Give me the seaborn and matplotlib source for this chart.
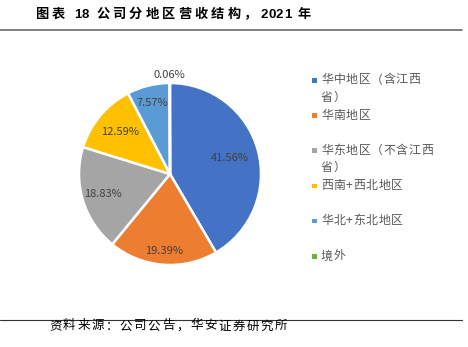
import matplotlib
matplotlib.use("Agg")
import matplotlib.pyplot as plt
import seaborn as sns
import numpy as np
from matplotlib.patches import Rectangle
from matplotlib.lines import Line2D

regions = ["华中地区（含江西\n省）", "华南地区", "华东地区（不含江西\n省）",
           "西南+西北地区", "华北+东北地区", "境外"]
shares = [41.56, 19.39, 18.83, 12.59, 7.57, 0.06]
colors = ["#4472C4", "#ED7D31", "#A5A5A5", "#FFC000", "#5B9BD5", "#70AD47"]
title = "图表 18 公司分地区营收结构，2021 年"
source = "资料来源：公司公告，华安证券研究所"

sns.set_theme(style="white")
plt.rcParams['font.family'] = ['Liberation Sans', 'Noto Sans CJK SC', 'DejaVu Sans']

fig = plt.figure(figsize=(4.68, 3.47), dpi=100)
W, H = 468, 347
renderer = fig.canvas.get_renderer()


def tracked(x_px, y_px, s, spacing, space_w, **kw):
    """Draw a string char by char with extra spacing (pixels) after wide chars."""
    x = x_px
    for i, ch in enumerate(s):
        if ch == " ":
            x += space_w
            continue
        t = fig.text(x / W, 1 - y_px / H, ch, ha="left", va="center", **kw)
        bb = t.get_window_extent(renderer)
        nxt = s[i + 1] if i + 1 < len(s) else " "
        x += bb.width
        if ord(ch) > 127 or ord(nxt) > 127:
            x += spacing
        else:
            x += 0.3


# pie axes: center (170,174), radius 91 px
cx, cy, r = 170, 174, 91
ax = fig.add_axes([(cx - r) / W, 1 - (cy + r) / H, 2 * r / W, 2 * r / H])
wedges, texts = ax.pie(shares, colors=colors, startangle=90, counterclock=False,
                       wedgeprops=dict(edgecolor="white", linewidth=1.8))
ax.set_xlim(-1, 1)
ax.set_ylim(-1, 1)
ax.set_aspect("equal")
ax.axis("off")

dists = [0.68, 0.85, 0.77, 0.72, 0.80, 1.09]
for w, v, d in zip(wedges, shares, dists):
    ang = np.deg2rad((w.theta1 + w.theta2) / 2)
    ax.text(d * np.cos(ang), d * np.sin(ang), f"{v:.2f}%", ha="center", va="center",
            fontsize=8, color="#404040", family=['Noto Sans CJK SC'])

# title and rules
tracked(35, 15, title, 3.2, 6.5, fontsize=9.5, fontweight="bold", color="black",
        family=['Liberation Sans', 'Noto Sans CJK SC'])
fig.add_artist(Line2D([0, 462 / W], [1 - 29.5 / H] * 2, color="#808080", lw=1.4))
fig.add_artist(Line2D([0, 462 / W], [1 - 320 / H] * 2, color="#333333", lw=0.8))
tracked(49, 326, source, 1.6, 4, fontsize=9, color="black",
        family=['Noto Sans CJK SC'])

# legend
y0, dy = 80, 35.2
for i, (lab, c) in enumerate(zip(regions, colors)):
    y = y0 + i * dy
    fig.add_artist(Rectangle((312 / W, 1 - (y + 2.5) / H), 4.5 / W, 4.5 / H,
                             facecolor=c, edgecolor="none", transform=fig.transFigure))
    for j, line in enumerate(lab.split("\n")):
        tracked(321, y + j * 17, line, 0.6, 4, fontsize=8.6, color="#595959",
                family=['Noto Sans CJK SC'])

fig.savefig("out.png", dpi=100)
